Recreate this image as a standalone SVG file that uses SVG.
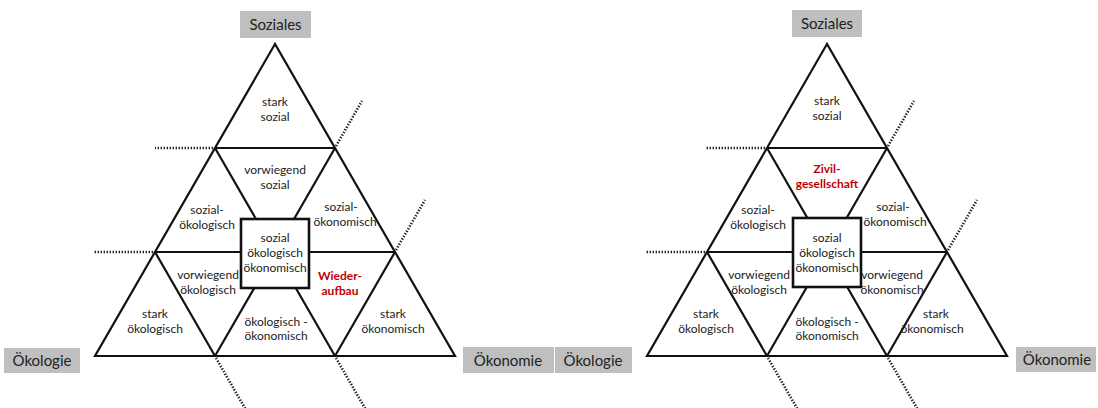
<svg xmlns="http://www.w3.org/2000/svg" width="1098" height="408" viewBox="0 0 1098 408">
<defs>
<style>
.bg{fill:#ffffff}
.edge{stroke:#111;stroke-width:2.2;fill:none;stroke-linejoin:miter}
.dot{stroke:#222;stroke-width:2.6;fill:none;stroke-dasharray:1.4 1.6}
.box{fill:#fff;stroke:#111;stroke-width:2.6}
.lab{fill:#bfbfbf}
.lt{font-family:Lato,"Liberation Sans",sans-serif;font-size:15px;fill:#222;text-anchor:middle}
.t{font-family:Lato,"Liberation Sans",sans-serif;font-size:12px;fill:#222;text-anchor:middle}
.r{font-family:Lato,"Liberation Sans",sans-serif;font-size:12px;fill:#c00000;font-weight:bold;text-anchor:middle}
</style>
</defs>
<rect class="bg" x="0" y="0" width="1098" height="408"/>

<!-- Left triangle -->
<g id="left-connectors">
<polygon class="edge" points="275,44 95,356 455,356"/>
<line class="edge" x1="215" y1="148" x2="335" y2="148"/>
<line class="edge" x1="155" y1="252" x2="395" y2="252"/>
<line class="edge" x1="215" y1="148" x2="335" y2="356"/>
<line class="edge" x1="335" y1="148" x2="215" y2="356"/>
<line class="edge" x1="155" y1="252" x2="215" y2="356"/>
<line class="edge" x1="395" y1="252" x2="335" y2="356"/>
<line class="dot" x1="213" y1="148" x2="155" y2="148"/>
<line class="dot" x1="153" y1="252" x2="93" y2="252"/>
<line class="dot" x1="336" y1="146" x2="362" y2="101"/>
<line class="dot" x1="396" y1="250" x2="425" y2="200"/>
<line class="dot" x1="216" y1="358" x2="246" y2="410"/>
<line class="dot" x1="336" y1="358" x2="366" y2="410"/>
</g>
<g id="left-stark-sozial"><text class="t" x="275" y="106">stark</text><text class="t" x="275" y="121">sozial</text></g>
<g id="left-vorwiegend-sozial"><text class="t" x="275" y="174">vorwiegend</text><text class="t" x="275" y="189">sozial</text></g>
<g id="left-sozial-oekologisch"><text class="t" x="207" y="214">sozial-</text><text class="t" x="207" y="229">ökologisch</text></g>
<g id="left-sozial-oekonomisch"><text class="t" x="341" y="211">sozial-</text><text class="t" x="345" y="226">ökonomisch</text></g>
<g id="left-center"><rect class="box" x="241" y="219" width="68" height="69"/><text class="t" x="275" y="242">sozial</text><text class="t" x="275" y="257">ökologisch</text><text class="t" x="275" y="272">ökonomisch</text></g>
<g id="left-vorwiegend-oekologisch"><text class="t" x="208" y="279">vorwiegend</text><text class="t" x="208" y="294">ökologisch</text></g>
<g id="left-wiederaufbau"><text class="r" x="340" y="280">Wieder-</text><text class="r" x="340" y="295">aufbau</text></g>
<g id="left-stark-oekologisch"><text class="t" x="155" y="318">stark</text><text class="t" x="155" y="333">ökologisch</text></g>
<g id="left-oekologisch-oekonomisch"><text class="t" x="276" y="326">ökologisch -</text><text class="t" x="276" y="340">ökonomisch</text></g>
<g id="left-stark-oekonomisch"><text class="t" x="393" y="318">stark</text><text class="t" x="393" y="333">ökonomisch</text></g>

<g id="left-label-soziales"><rect class="lab" x="240" y="11" width="71" height="27"/><text class="lt" x="275.5" y="30">Soziales</text></g>
<g id="left-label-oekologie"><rect class="lab" x="4" y="348" width="76" height="25"/><text class="lt" x="42" y="366">Ökologie</text></g>
<g id="left-label-oekonomie"><rect class="lab" x="463" y="347" width="91" height="26"/><text class="lt" x="508" y="366">Ökonomie</text></g>

<!-- Right triangle -->
<g id="right-connectors" transform="translate(552,0)">
<polygon class="edge" points="275,44 95,356 455,356"/>
<line class="edge" x1="215" y1="148" x2="335" y2="148"/>
<line class="edge" x1="155" y1="252" x2="395" y2="252"/>
<line class="edge" x1="215" y1="148" x2="335" y2="356"/>
<line class="edge" x1="335" y1="148" x2="215" y2="356"/>
<line class="edge" x1="155" y1="252" x2="215" y2="356"/>
<line class="edge" x1="395" y1="252" x2="335" y2="356"/>
<line class="dot" x1="213" y1="148" x2="154" y2="148"/>
<line class="dot" x1="153" y1="252" x2="94" y2="252"/>
<line class="dot" x1="336" y1="146" x2="362" y2="101"/>
<line class="dot" x1="396" y1="250" x2="425" y2="200"/>
<line class="dot" x1="216" y1="358" x2="246" y2="410"/>
<line class="dot" x1="336" y1="358" x2="366" y2="410"/>
</g>
<g id="right-stark-sozial"><text class="t" x="827" y="105">stark</text><text class="t" x="827" y="120">sozial</text></g>
<g id="right-zivilgesellschaft"><text class="r" x="827" y="173">Zivil-</text><text class="r" x="827" y="188">gesellschaft</text></g>
<g id="right-sozial-oekologisch"><text class="t" x="758" y="214">sozial-</text><text class="t" x="758" y="229">ökologisch</text></g>
<g id="right-sozial-oekonomisch"><text class="t" x="893" y="211">sozial-</text><text class="t" x="895" y="226">ökonomisch</text></g>
<g id="right-center"><rect class="box" x="793" y="218" width="68" height="69"/><text class="t" x="827" y="242">sozial</text><text class="t" x="827" y="257">ökologisch</text><text class="t" x="827" y="272">ökonomisch</text></g>
<g id="right-vorwiegend-oekologisch"><text class="t" x="759" y="279">vorwiegend</text><text class="t" x="759" y="294">ökologisch</text></g>
<g id="right-vorwiegend-oekonomisch"><text class="t" x="892" y="279">vorwiegend</text><text class="t" x="892" y="294">ökonomisch</text></g>
<g id="right-stark-oekologisch"><text class="t" x="706" y="318">stark</text><text class="t" x="706" y="333">ökologisch</text></g>
<g id="right-oekologisch-oekonomisch"><text class="t" x="827" y="326">ökologisch -</text><text class="t" x="827" y="340">ökonomisch</text></g>
<g id="right-stark-oekonomisch"><text class="t" x="936" y="318">stark</text><text class="t" x="932" y="333">ökonomisch</text></g>

<g id="right-label-soziales"><rect class="lab" x="792" y="10" width="70" height="27"/><text class="lt" x="827" y="29">Soziales</text></g>
<g id="right-label-oekologie"><rect class="lab" x="555" y="347" width="77" height="26"/><text class="lt" x="593" y="366">Ökologie</text></g>
<g id="right-label-oekonomie"><rect class="lab" x="1016" y="347" width="80" height="25"/><text class="lt" x="1057" y="365">Ökonomie</text></g>
</svg>
